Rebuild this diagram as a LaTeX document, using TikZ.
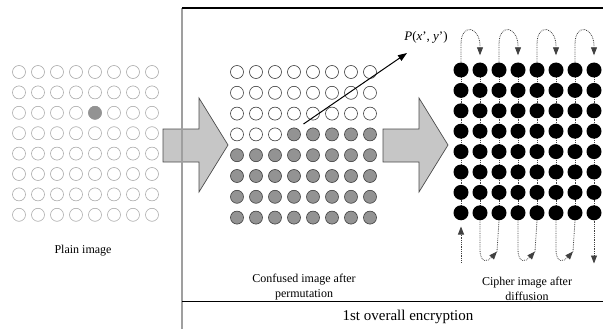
\documentclass[tikz,border=0pt]{standalone}
\usepackage{fontspec}
\setmainfont{Liberation Serif}
\usetikzlibrary{arrows.meta,calc}
\tikzset{
    plaindot/.style={circle, draw=gray!65, line width=0.6pt, fill=white, minimum size=13pt, inner sep=0pt},
    mid0/.style={circle, draw=black!75, line width=0.6pt, fill=white, minimum size=13pt, inner sep=0pt},
    mid1/.style={mid0, fill=gray!85},
    cipherdot/.style={circle, fill=black, minimum size=15pt, inner sep=0pt},
    flow/.style={draw=black!75, densely dotted, line width=0.8pt},
    flowtip/.style={flow, -{Triangle[length=8pt,width=6pt]}},
    bigarrow/.style={draw=black!70, line width=0.7pt, fill=gray!45},
    caption/.style={font=\fontsize{12}{15.5}\selectfont, align=center}
}
\begin{document}
\begin{tikzpicture}[x=1pt, y=-1pt]
    \useasboundingbox (0,0) rectangle (603,329);
    % block arrows
    \foreach \x in {163,383}
        \draw[bigarrow] (\x,129) -- ++(36,0) -- ++(0,-31) -- (\x+65,145) -- (\x+36,192)
            -- ++(0,-30) -- (\x,162) -- cycle;
    % frame of the encryption part
    \draw[gray!75, line width=1.6pt] (182,8) -- (182,329);
    \draw[black, line width=1.2pt] (182,8) -- (603,8);
    \draw[black, line width=1pt] (182,301) -- (603,301);

    % plain image
    \foreach \i in {0,...,7}
        \foreach \j in {0,...,7}
            \node[plaindot] (p-\i-\j) at (19+19*\i, 72+20.4*\j) {};
    \node[plaindot, fill=gray!85, draw=gray!85] at (p-4-2) {};
    \node[caption] (plain) at (83,251) {Plain image};

    % confused image
    \foreach \i in {0,...,7}
        \foreach \j in {0,...,7} {
            \pgfmathtruncatemacro\isgray{or(\j>3, and(\j==3, \i>2))}
            \node[mid\isgray] (m-\i-\j) at (237+19*\i, 72+20.8*\j) {};
        }
    \coordinate (ptip) at (407,53);
    \draw[line width=1pt, -{Triangle[length=9pt,width=6.5pt]}] ($(m-3-3)!0.5!(m-4-2)$) -- (ptip);
    \node[font=\fontsize{13}{15}\selectfont] (plabel) at (426,37) {\textit{P}(\textit{x}', \textit{y}')};
    \node[caption] (confused) at (304,287) {Confused image after\\permutation};

    % cipher image
    \foreach \i in {0,...,7}
        \draw[flow] (461+19*\i,70) -- (461+19*\i,213);
    \foreach \i in {0,...,7}
        \foreach \j in {0,...,7}
            \node[cipherdot] (c-\i-\j) at (461+19*\i, 70+20.4*\j) {};
    \foreach \i/\k in {0/1,2/3,4/5,6/7}
        \draw[flowtip, shorten >=7pt] (c-\i-0.north) -- ++(0,-18)
            .. controls +(0,-22) and +(0,-20) .. ++(19,2) -- (c-\k-0.north);
    \foreach \i/\k in {1/2,3/4,5/6} {
        \coordinate (b\k) at ($(c-\k-7.south)+(-2,31)$);
        \draw[flow] (c-\k-7.south) -- (b\k);
        \draw[flowtip] (c-\i-7.south) -- ++(0,28)
            .. controls +(0,16) and +(-9,10) .. (b\k);
    }
    \coordinate (in0) at ($(c-0-7.south)+(0,42)$);
    \coordinate (out7) at ($(c-7-7.south)+(0,43)$);
    \draw[flowtip, shorten >=6pt] (in0) -- (c-0-7.south);
    \draw[flowtip] (c-7-7.south) -- (out7);
    \node[caption] (cipher) at (527,289) {Cipher image after\\diffusion};

    \node[font=\fontsize{15}{18}\selectfont] (title) at (408,317) {1st overall encryption};
\end{tikzpicture}
\end{document}
